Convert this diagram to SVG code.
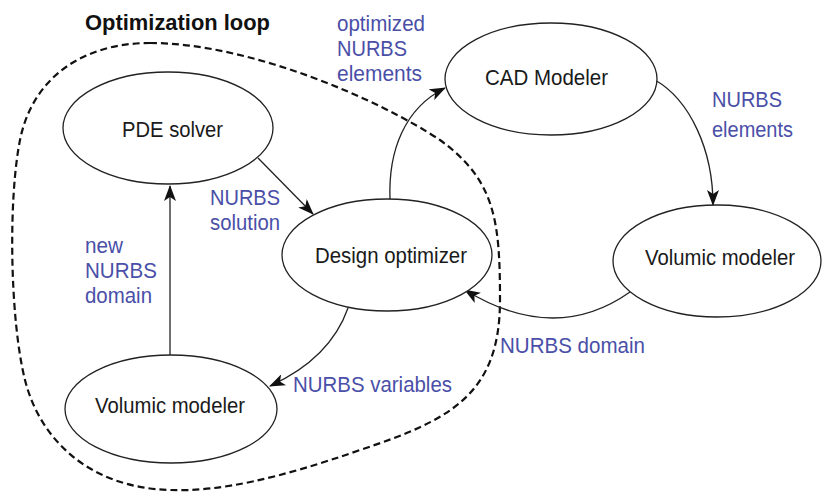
<svg xmlns="http://www.w3.org/2000/svg" width="822" height="495" viewBox="0 0 822 495">
<style>
.node{fill:#fff;stroke:#222;stroke-width:1.3}
.nt{font-family:"Liberation Sans",Arial,sans-serif;font-size:22.5px;fill:#1a1a1a}
.bl{font-family:"Liberation Sans",Arial,sans-serif;font-size:22.5px;fill:#4a4fa8}
.title{font-family:"Liberation Sans",Arial,sans-serif;font-size:22px;font-weight:bold;fill:#111}
.edge{fill:none;stroke:#222;stroke-width:1.3}
.loop{fill:none;stroke:#111;stroke-width:2.2;stroke-dasharray:7 4}
</style>
<defs>
<marker id="ah" markerUnits="userSpaceOnUse" markerWidth="16" markerHeight="12" viewBox="0 0 16 12" refX="15" refY="6" orient="auto">
<path d="M0,0 L16,6 L0,12 L4,6 Z" fill="#111"/>
</marker>
</defs>
<rect width="822" height="495" fill="#fff"/>
<path id="loop" class="loop" d="M150,43 C250,43 380,100 440,140 C495,180 500,220 500,300 C500,395 450,420 360,450 C280,478 220,492 170,490 C90,488 40,440 25,380 C10,320 8,200 20,140 C32,80 80,43 150,43 Z"/>
<text class="title" x="85" y="30" textLength="185" lengthAdjust="spacingAndGlyphs">Optimization loop</text>
<g id="connectors">
<path class="edge" d="M258,158 L313,214" marker-end="url(#ah)"/>
<path class="edge" d="M170,355 L170,186" marker-end="url(#ah)"/>
<path class="edge" d="M390,200 C388,150 405,108 445,88" marker-end="url(#ah)"/>
<path class="edge" d="M655,80 C690,100 713,150 713,205" marker-end="url(#ah)"/>
<path class="edge" d="M630,292 Q555,345 465,290" marker-end="url(#ah)"/>
<path class="edge" d="M348,308 C335,345 305,370 270,386" marker-end="url(#ah)"/>
</g>
<g id="pde">
<ellipse class="node" cx="168" cy="128" rx="105" ry="56"/>
<text class="nt" x="122" y="137" textLength="101" lengthAdjust="spacingAndGlyphs">PDE solver</text>
</g>
<g id="cad">
<ellipse class="node" cx="551" cy="79" rx="106" ry="56"/>
<text class="nt" x="485" y="85" textLength="123" lengthAdjust="spacingAndGlyphs">CAD Modeler</text>
</g>
<g id="design">
<ellipse class="node" cx="387" cy="255" rx="105" ry="56"/>
<text class="nt" x="315" y="263" textLength="152" lengthAdjust="spacingAndGlyphs">Design optimizer</text>
</g>
<g id="volR">
<ellipse class="node" cx="717" cy="261" rx="104" ry="56"/>
<text class="nt" x="645" y="265" textLength="150" lengthAdjust="spacingAndGlyphs">Volumic modeler</text>
</g>
<g id="volL">
<ellipse class="node" cx="171" cy="409" rx="106" ry="54"/>
<text class="nt" x="95" y="413" textLength="150" lengthAdjust="spacingAndGlyphs">Volumic modeler</text>
</g>
<g id="labels">
<text class="bl" x="337" y="31" textLength="88" lengthAdjust="spacingAndGlyphs">optimized</text>
<text class="bl" x="337" y="56" textLength="70" lengthAdjust="spacingAndGlyphs">NURBS</text>
<text class="bl" x="337" y="81" textLength="85" lengthAdjust="spacingAndGlyphs">elements</text>
<text class="bl" x="712" y="107" textLength="70" lengthAdjust="spacingAndGlyphs">NURBS</text>
<text class="bl" x="712" y="137" textLength="81" lengthAdjust="spacingAndGlyphs">elements</text>
<text class="bl" x="210" y="205" textLength="70" lengthAdjust="spacingAndGlyphs">NURBS</text>
<text class="bl" x="210" y="230" textLength="70" lengthAdjust="spacingAndGlyphs">solution</text>
<text class="bl" x="85" y="253" textLength="38" lengthAdjust="spacingAndGlyphs">new</text>
<text class="bl" x="85" y="278" textLength="72" lengthAdjust="spacingAndGlyphs">NURBS</text>
<text class="bl" x="85" y="303" textLength="67" lengthAdjust="spacingAndGlyphs">domain</text>
<text class="bl" x="500" y="353" textLength="145" lengthAdjust="spacingAndGlyphs">NURBS domain</text>
<text class="bl" x="293" y="392" textLength="159" lengthAdjust="spacingAndGlyphs">NURBS variables</text>
</g>
</svg>
